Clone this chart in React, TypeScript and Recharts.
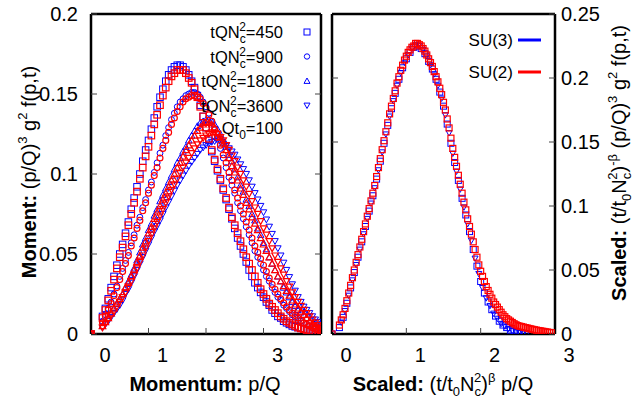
import React from "react";
import { ScatterChart, Scatter, XAxis, YAxis } from "recharts";

// ── Palette / font ──────────────────────────────────────────────────

const FONT = "'Liberation Sans', Arial, Helvetica, sans-serif";
const BLUE = "#0000ff";
const RED = "#ff0000";

// ── Left panel: momentum spectra at four times ──────────────────────

const MOM_X = [
  0, 0.2, 0.25, 0.3, 0.35, 0.4, 0.45, 0.5, 0.55, 0.6, 0.65, 0.7, 0.75, 0.8, 0.85, 0.9, 0.95, 1.0,
  1.05, 1.1, 1.15, 1.2, 1.25, 1.3, 1.35, 1.4, 1.45, 1.5, 1.55, 1.6, 1.65, 1.7, 1.75, 1.8, 1.85, 1.9,
  1.95, 2.0, 2.05, 2.1, 2.15, 2.2, 2.25, 2.3, 2.35, 2.4, 2.45, 2.5, 2.55, 2.6, 2.65, 2.7, 2.75, 2.8,
  2.85, 2.9, 2.95, 3.0, 3.05, 3.1, 3.15, 3.2, 3.25, 3.3, 3.35, 3.4, 3.45, 3.5, 3.55, 3.6, 3.65, 3.7,
  3.75, 3.8, 3.85, 3.9, 3.95, 4.0,
];

const SU3_450 = [
  0,
  0.011, 0.016, 0.022, 0.029, 0.036, 0.043, 0.05, 0.056, 0.063, 0.07,
  0.078, 0.085, 0.092, 0.1, 0.108, 0.115, 0.121, 0.128, 0.135, 0.142,
  0.148, 0.153, 0.158, 0.162, 0.165, 0.167, 0.168, 0.168, 0.167, 0.165,
  0.162, 0.158, 0.154, 0.149, 0.143, 0.136, 0.129, 0.121, 0.114, 0.108,
  0.102, 0.096, 0.09, 0.084, 0.078, 0.072, 0.066, 0.06, 0.055, 0.05,
  0.045, 0.04, 0.036, 0.032, 0.029, 0.026, 0.023, 0.02, 0.018, 0.015,
  0.013, 0.011, 0.01, 0.008, 0.007, 0.006, 0.005, 0.0045, 0.004, 0.0035,
  0.003, 0.0025, 0.002, 0.0015, 0.001, 0.0008, 0.0005,
];
const SU2_450 = [
  0,
  0.01, 0.015, 0.021, 0.027, 0.034, 0.041, 0.048, 0.054, 0.061, 0.068,
  0.075, 0.082, 0.089, 0.097, 0.104, 0.111, 0.117, 0.124, 0.131, 0.137,
  0.143, 0.149, 0.154, 0.158, 0.161, 0.163, 0.165, 0.165, 0.165, 0.163,
  0.16, 0.157, 0.153, 0.148, 0.142, 0.136, 0.129, 0.122, 0.115, 0.109,
  0.103, 0.097, 0.091, 0.085, 0.079, 0.073, 0.068, 0.063, 0.058, 0.053,
  0.048, 0.044, 0.04, 0.036, 0.032, 0.028, 0.025, 0.022, 0.019, 0.017,
  0.015, 0.013, 0.011, 0.0095, 0.008, 0.007, 0.006, 0.005, 0.004, 0.0035,
  0.003, 0.0025, 0.002, 0.0015, 0.001, 0.0008, 0.0006,
];
const SU3_900 = [
  0,
  0.008, 0.012, 0.016, 0.02, 0.025, 0.03, 0.036, 0.041, 0.046, 0.051,
  0.057, 0.062, 0.068, 0.073, 0.079, 0.084, 0.09, 0.095, 0.101, 0.107,
  0.113, 0.118, 0.124, 0.129, 0.134, 0.138, 0.142, 0.145, 0.147, 0.149,
  0.15, 0.151, 0.151, 0.15, 0.148, 0.145, 0.142, 0.138, 0.133, 0.128,
  0.122, 0.116, 0.11, 0.104, 0.098, 0.093, 0.088, 0.082, 0.077, 0.072,
  0.067, 0.062, 0.057, 0.052, 0.048, 0.044, 0.04, 0.036, 0.033, 0.029,
  0.026, 0.023, 0.021, 0.018, 0.016, 0.014, 0.012, 0.0105, 0.009, 0.008,
  0.007, 0.006, 0.005, 0.004, 0.003, 0.0025, 0.002,
];
const SU2_900 = [
  0,
  0.007, 0.011, 0.015, 0.019, 0.024, 0.029, 0.034, 0.039, 0.044, 0.049,
  0.055, 0.06, 0.066, 0.071, 0.077, 0.082, 0.088, 0.093, 0.099, 0.104,
  0.11, 0.116, 0.121, 0.126, 0.131, 0.135, 0.139, 0.142, 0.145, 0.147,
  0.148, 0.149, 0.149, 0.148, 0.147, 0.144, 0.141, 0.137, 0.133, 0.128,
  0.123, 0.118, 0.112, 0.107, 0.101, 0.096, 0.09, 0.085, 0.08, 0.075,
  0.07, 0.065, 0.06, 0.055, 0.051, 0.047, 0.043, 0.039, 0.035, 0.031,
  0.028, 0.025, 0.022, 0.0195, 0.017, 0.015, 0.013, 0.0115, 0.01, 0.0085,
  0.007, 0.006, 0.005, 0.004, 0.003, 0.0025, 0.002,
];
const SU3_1800 = [
  0,
  0.005, 0.0075, 0.01, 0.013, 0.016, 0.019, 0.022, 0.025, 0.029, 0.033,
  0.037, 0.041, 0.046, 0.051, 0.056, 0.06, 0.065, 0.069, 0.074, 0.078,
  0.083, 0.087, 0.091, 0.095, 0.099, 0.103, 0.107, 0.11, 0.114, 0.117,
  0.121, 0.124, 0.127, 0.13, 0.132, 0.133, 0.134, 0.134, 0.133, 0.131,
  0.128, 0.125, 0.121, 0.117, 0.112, 0.108, 0.103, 0.098, 0.093, 0.089,
  0.084, 0.08, 0.075, 0.071, 0.066, 0.062, 0.057, 0.053, 0.048, 0.044,
  0.04, 0.036, 0.033, 0.029, 0.026, 0.023, 0.02, 0.0175, 0.015, 0.0135,
  0.012, 0.01, 0.008, 0.0065, 0.005, 0.004, 0.003,
];
const SU2_1800 = [
  0,
  0.005, 0.0075, 0.01, 0.013, 0.016, 0.019, 0.022, 0.025, 0.029, 0.032,
  0.036, 0.04, 0.045, 0.049, 0.054, 0.058, 0.063, 0.067, 0.072, 0.076,
  0.08, 0.084, 0.088, 0.092, 0.096, 0.1, 0.104, 0.107, 0.111, 0.115,
  0.118, 0.121, 0.124, 0.127, 0.129, 0.131, 0.132, 0.132, 0.131, 0.129,
  0.126, 0.123, 0.119, 0.115, 0.11, 0.105, 0.101, 0.096, 0.091, 0.087,
  0.082, 0.078, 0.073, 0.069, 0.065, 0.06, 0.056, 0.052, 0.048, 0.044,
  0.04, 0.036, 0.033, 0.03, 0.027, 0.024, 0.021, 0.0185, 0.016, 0.014,
  0.012, 0.01, 0.008, 0.0065, 0.005, 0.004, 0.003,
];
const SU3_3600 = [
  0,
  0.004, 0.006, 0.008, 0.0105, 0.013, 0.0155, 0.018, 0.021, 0.025, 0.028,
  0.032, 0.036, 0.04, 0.044, 0.048, 0.052, 0.056, 0.06, 0.064, 0.0675,
  0.071, 0.075, 0.079, 0.0825, 0.086, 0.0895, 0.093, 0.096, 0.099, 0.102,
  0.105, 0.1075, 0.11, 0.1125, 0.115, 0.1165, 0.118, 0.119, 0.12, 0.1205,
  0.121, 0.12, 0.119, 0.1175, 0.116, 0.114, 0.112, 0.109, 0.106, 0.103,
  0.1, 0.096, 0.092, 0.088, 0.084, 0.08, 0.076, 0.0715, 0.067, 0.0625,
  0.058, 0.0535, 0.049, 0.0445, 0.04, 0.0355, 0.031, 0.027, 0.023, 0.02,
  0.017, 0.015, 0.013, 0.011, 0.009, 0.0075, 0.006,
];
const SU2_3600 = [
  0,
  0.004, 0.0065, 0.009, 0.0115, 0.014, 0.017, 0.02, 0.023, 0.026, 0.0295,
  0.033, 0.037, 0.041, 0.045, 0.049, 0.0535, 0.058, 0.062, 0.066, 0.07,
  0.074, 0.078, 0.082, 0.086, 0.09, 0.0935, 0.097, 0.1005, 0.104, 0.107,
  0.11, 0.113, 0.116, 0.1185, 0.121, 0.1225, 0.124, 0.125, 0.126, 0.1255,
  0.125, 0.123, 0.121, 0.118, 0.115, 0.1115, 0.108, 0.104, 0.1, 0.096,
  0.092, 0.0875, 0.083, 0.079, 0.075, 0.0705, 0.066, 0.062, 0.058, 0.0535,
  0.049, 0.045, 0.041, 0.037, 0.033, 0.0295, 0.026, 0.023, 0.02, 0.0175,
  0.015, 0.013, 0.011, 0.009, 0.007, 0.0055, 0.004,
];

const MOM_X_TICKS = [0, 1, 2, 3];
const MOM_Y_TICKS = [0, 0.05, 0.1, 0.15, 0.2];

// ── Right panel: scaled spectra ─────────────────────────────────────

const SC_XA = [
  0, 0.1, 0.15, 0.2, 0.25, 0.3, 0.35, 0.4, 0.45, 0.5, 0.55, 0.6, 0.65, 0.7, 0.75, 0.8, 0.85, 0.9,
  0.95, 1.0, 1.05, 1.1, 1.15, 1.2, 1.25, 1.3, 1.35, 1.4, 1.45, 1.5, 1.55, 1.6, 1.65, 1.7, 1.75, 1.8,
  1.85, 1.9, 1.95, 2.0, 2.05, 2.1, 2.15, 2.2, 2.25, 2.3, 2.35, 2.4, 2.45, 2.5, 2.55, 2.6, 2.65, 2.7,
  2.75, 2.8, 2.85, 2.9, 2.95,
];
const SC_XB = [
  0.125, 0.175, 0.225, 0.275, 0.325, 0.375, 0.425, 0.475, 0.525, 0.575, 0.625, 0.675, 0.725, 0.775,
  0.825, 0.875, 0.925, 0.975, 1.025, 1.075, 1.125, 1.175, 1.225, 1.275, 1.325, 1.375, 1.425, 1.475,
  1.525, 1.575, 1.625, 1.675, 1.725, 1.775, 1.825, 1.875, 1.925, 1.975, 2.025, 2.075, 2.125, 2.175,
  2.225, 2.275, 2.325, 2.375, 2.425, 2.475, 2.525, 2.575, 2.625, 2.675, 2.725, 2.775, 2.825, 2.875,
  2.925,
];

const SC_SU3_A = [
  0,
  0.005, 0.013, 0.024, 0.036, 0.048, 0.06, 0.072, 0.084, 0.096, 0.108,
  0.121, 0.135, 0.149, 0.163, 0.176, 0.188, 0.199, 0.208, 0.215, 0.22,
  0.224, 0.225, 0.223, 0.219, 0.213, 0.207, 0.199, 0.189, 0.178, 0.164,
  0.149, 0.134, 0.12, 0.106, 0.093, 0.08, 0.066, 0.053, 0.041, 0.032,
  0.025, 0.019, 0.014, 0.01, 0.007, 0.005, 0.003, 0.002, 0.001, 0.0006,
  0.0004,
];
const SC_SU3_B = [
  0.009, 0.018, 0.03, 0.042, 0.054, 0.066, 0.078, 0.09, 0.102, 0.114,
  0.128, 0.142, 0.156, 0.17, 0.182, 0.194, 0.204, 0.212, 0.218, 0.223,
  0.226, 0.225, 0.222, 0.217, 0.21, 0.203, 0.194, 0.184, 0.171, 0.157,
  0.141, 0.127, 0.113, 0.099, 0.086, 0.073, 0.059, 0.047, 0.036, 0.028,
  0.022, 0.016, 0.012, 0.008, 0.006, 0.004, 0.0025, 0.0015, 0.0008, 0.0005,
];
const SC_SU2_A = [
  0,
  0.007, 0.015, 0.026, 0.038, 0.05, 0.062, 0.074, 0.086, 0.098, 0.11,
  0.123, 0.137, 0.151, 0.165, 0.178, 0.19, 0.201, 0.21, 0.217, 0.222,
  0.225, 0.227, 0.225, 0.221, 0.215, 0.209, 0.201, 0.192, 0.181, 0.168,
  0.153, 0.138, 0.124, 0.11, 0.097, 0.084, 0.072, 0.06, 0.049, 0.041,
  0.034, 0.028, 0.023, 0.019, 0.015, 0.012, 0.01, 0.008, 0.0065, 0.0058,
  0.005, 0.0043, 0.0036, 0.003, 0.0025, 0.002, 0.0015, 0.001,
];
const SC_SU2_B = [
  0.011, 0.02, 0.032, 0.044, 0.056, 0.068, 0.08, 0.092, 0.104, 0.116,
  0.13, 0.144, 0.158, 0.172, 0.184, 0.196, 0.206, 0.214, 0.22, 0.224,
  0.227, 0.226, 0.223, 0.218, 0.212, 0.205, 0.197, 0.187, 0.175, 0.161,
  0.145, 0.131, 0.117, 0.103, 0.09, 0.078, 0.066, 0.054, 0.045, 0.037,
  0.031, 0.025, 0.021, 0.017, 0.0135, 0.011, 0.009, 0.0072, 0.0061, 0.0054,
  0.0047, 0.004, 0.0033, 0.0027, 0.0022, 0.0017, 0.0012,
];

const SC_X_TICKS = [0, 1, 2, 3];
const SC_Y_TICKS = [0, 0.05, 0.1, 0.15, 0.2, 0.25];

const LEGEND_TIMES = ["450", "900", "1800", "3600"];

// ── Helpers ─────────────────────────────────────────────────────────

type Kind = "square" | "circle" | "up" | "down";

const pts = (xs: number[], ys: number[]) => ys.map((y, i) => ({ x: xs[i], y }));

function glyph(kind: Kind, color: string, cx: number, cy: number, size: number, width: number) {
  const h = size / 2;
  const common = { fill: "none", stroke: color, strokeWidth: width };
  if (kind === "square") return <rect x={cx - h} y={cy - h} width={size} height={size} {...common} />;
  if (kind === "circle") return <circle cx={cx} cy={cy} r={h - 0.3} {...common} />;
  if (kind === "up")
    return <polygon points={`${cx},${cy - h} ${cx - h},${cy + h * 0.8} ${cx + h},${cy + h * 0.8}`} {...common} />;
  return <polygon points={`${cx},${cy + h} ${cx - h},${cy - h * 0.8} ${cx + h},${cy - h * 0.8}`} {...common} />;
}

const marker = (kind: Kind, color: string, size = 7, width = 1) => (props: any) => {
  const { cx, cy } = props;
  if (cx == null || cy == null) return <g />;
  return glyph(kind, color, cx, cy, size, width);
};

const shiftedTick = (props: any) => {
  const { x, y, payload } = props;
  return (
    <text x={x + 14} y={y} dy="0.71em" textAnchor="middle" fill="#000" fontSize={20} fontFamily={FONT}>
      {payload.value}
    </text>
  );
};
const blankTick = () => <g />;

const yTick = { fill: "#000", fontSize: 20, fontFamily: FONT };
const frame = { stroke: "#000", strokeWidth: 2.5 };
const tickLine = { stroke: "#444", strokeWidth: 1 };

const LEFT_SERIES: { ys: number[]; kind: Kind; color: string }[] = [
  { ys: SU3_450, kind: "square", color: BLUE },
  { ys: SU3_900, kind: "circle", color: BLUE },
  { ys: SU3_1800, kind: "up", color: BLUE },
  { ys: SU3_3600, kind: "down", color: BLUE },
  { ys: SU2_450, kind: "square", color: RED },
  { ys: SU2_900, kind: "circle", color: RED },
  { ys: SU2_1800, kind: "up", color: RED },
  { ys: SU2_3600, kind: "down", color: RED },
];

const RIGHT_SERIES: { xs: number[]; ys: number[]; kind: Kind; color: string }[] = [
  { xs: SC_XA, ys: SC_SU3_A, kind: "square", color: BLUE },
  { xs: SC_XB, ys: SC_SU3_B, kind: "down", color: BLUE },
  { xs: SC_XA, ys: SC_SU2_A, kind: "square", color: RED },
  { xs: SC_XB, ys: SC_SU2_B, kind: "square", color: RED },
];

const LEGEND_KINDS: Kind[] = ["square", "circle", "up", "down"];

// ── Panels ──────────────────────────────────────────────────────────

function MomentumPanel() {
  return (
    <ScatterChart width={632} height={401} margin={{ top: 4, right: 301, bottom: 37, left: 41 }}>
      <XAxis
        type="number"
        dataKey="x"
        domain={[0, 4]}
        allowDataOverflow
        ticks={MOM_X_TICKS}
        interval={0}
        height={30}
        tickSize={-6}
        tickMargin={20}
        tick={shiftedTick}
        axisLine={frame}
        tickLine={tickLine}
      />
      <XAxis
        xAxisId="top"
        orientation="top"
        type="number"
        domain={[0, 4]}
        allowDataOverflow
        ticks={[1, 2, 3]}
        interval={0}
        height={10}
        tickSize={-6}
        tick={blankTick}
        axisLine={frame}
        tickLine={tickLine}
      />
      <YAxis
        type="number"
        dataKey="y"
        domain={[0, 0.2]}
        allowDataOverflow
        ticks={MOM_Y_TICKS}
        interval={0}
        width={50}
        tickSize={-6}
        tickMargin={19}
        tick={yTick}
        axisLine={frame}
        tickLine={tickLine}
      />
      <YAxis
        yAxisId="right"
        orientation="right"
        type="number"
        domain={[0, 0.2]}
        allowDataOverflow
        ticks={[0.05, 0.1, 0.15]}
        interval={0}
        width={10}
        tickSize={-6}
        tick={blankTick}
        axisLine={frame}
        tickLine={tickLine}
      />
      {LEFT_SERIES.map((s, i) => (
        <Scatter
          key={i}
          data={pts(MOM_X, s.ys)}
          shape={marker(s.kind, s.color, 6.5, s.color === RED ? 1.2 : 1)}
          isAnimationActive={false}
        />
      ))}
    </ScatterChart>
  );
}

function ScaledPanel() {
  return (
    <ScatterChart width={632} height={401} margin={{ top: 4, right: 27, bottom: 37, left: 322 }}>
      <XAxis
        type="number"
        dataKey="x"
        domain={[0, 3]}
        allowDataOverflow
        ticks={SC_X_TICKS}
        interval={0}
        height={30}
        tickSize={-6}
        tickMargin={20}
        tick={shiftedTick}
        axisLine={frame}
        tickLine={tickLine}
      />
      <XAxis
        xAxisId="top"
        orientation="top"
        type="number"
        domain={[0, 3]}
        allowDataOverflow
        ticks={[1, 2]}
        interval={0}
        height={10}
        tickSize={-6}
        tick={blankTick}
        axisLine={frame}
        tickLine={tickLine}
      />
      <YAxis
        orientation="right"
        type="number"
        dataKey="y"
        domain={[0, 0.25]}
        allowDataOverflow
        ticks={SC_Y_TICKS}
        interval={0}
        width={50}
        tickSize={-6}
        tickMargin={12}
        tick={yTick}
        axisLine={frame}
        tickLine={tickLine}
      />
      <YAxis
        yAxisId="left"
        orientation="left"
        type="number"
        domain={[0, 0.25]}
        allowDataOverflow
        ticks={[0.05, 0.1, 0.15, 0.2]}
        interval={0}
        width={10}
        tickSize={-6}
        tick={blankTick}
        axisLine={frame}
        tickLine={tickLine}
      />
      {RIGHT_SERIES.map((s, i) => (
        <Scatter
          key={i}
          data={pts(s.xs, s.ys)}
          shape={marker(s.kind, s.color, 6, s.color === RED ? 1.2 : 1)}
          isAnimationActive={false}
        />
      ))}
    </ScatterChart>
  );
}

// ── Titles and keys ─────────────────────────────────────────────────

function Annotations() {
  const sub = 13;
  return (
    <svg width={632} height={401} style={{ position: "absolute", left: 0, top: 0, pointerEvents: "none" }}>
      <g fontFamily={FONT} fill="#000">
        {/* left legend */}
        {LEGEND_TIMES.map((t, i) => (
          <g key={t}>
            <text x={283} y={38 + i * 24.5} textAnchor="end" fontSize={16.5}>
              tQN
              <tspan fontSize={12} dy={5}>c</tspan>
              <tspan fontSize={12} dx={-6.5} dy={-12}>2</tspan>
              <tspan dy={7}>{"=" + t}</tspan>
            </text>
            {glyph(LEGEND_KINDS[i], BLUE, 307, 32 + i * 24.5, 6, 1)}
          </g>
        ))}
        <text x={283} y={134} textAnchor="end" fontSize={16.5}>
          Qt
          <tspan fontSize={12} dy={5}>0</tspan>
          <tspan dy={-5}>=100</tspan>
        </text>

        {/* right legend */}
        <text x={513} y={46} textAnchor="end" fontSize={17}>SU(3)</text>
        <line x1={518} x2={541} y1={40} y2={40} stroke={BLUE} strokeWidth={3} />
        <text x={513} y={78} textAnchor="end" fontSize={17}>SU(2)</text>
        <line x1={518} x2={541} y1={72} y2={72} stroke={RED} strokeWidth={3} />

        {/* x titles */}
        <text x={205} y={391} textAnchor="middle" fontSize={20}>
          <tspan fontWeight="bold">Momentum:</tspan>
          {" p/Q"}
        </text>
        <text x={443} y={391} textAnchor="middle" fontSize={20}>
          <tspan fontWeight="bold">Scaled:</tspan>
          {" (t/t"}
          <tspan fontSize={sub} dy={5}>0</tspan>
          <tspan dy={-5}>N</tspan>
          <tspan fontSize={sub} dy={5}>c</tspan>
          <tspan fontSize={sub} dx={-7} dy={-14}>2</tspan>
          <tspan dy={9}>)</tspan>
          <tspan fontSize={sub} dy={-9}>β</tspan>
          <tspan dy={9}>{" p/Q"}</tspan>
        </text>

        {/* y titles */}
        <text transform="translate(36,172) rotate(-90)" textAnchor="middle" fontSize={20}>
          <tspan fontWeight="bold">Moment:</tspan>
          {" (p/Q)"}
          <tspan fontSize={sub} dy={-9}>3</tspan>
          <tspan dy={9}>{" g"}</tspan>
          <tspan fontSize={sub} dy={-9}>2</tspan>
          <tspan dy={9}>{" f(p,t)"}</tspan>
        </text>
        <text transform="translate(626,163) rotate(-90)" textAnchor="middle" fontSize={20}>
          <tspan fontWeight="bold">Scaled:</tspan>
          {" (t/t"}
          <tspan fontSize={sub} dy={5}>0</tspan>
          <tspan dy={-5}>N</tspan>
          <tspan fontSize={sub} dy={5}>c</tspan>
          <tspan fontSize={sub} dx={-7} dy={-14}>2</tspan>
          <tspan dy={9}>)</tspan>
          <tspan fontSize={sub} dy={-9}>-β</tspan>
          <tspan dy={9}>{" (p/Q)"}</tspan>
          <tspan fontSize={sub} dy={-9}>3</tspan>
          <tspan dy={9}>{" g"}</tspan>
          <tspan fontSize={sub} dy={-9}>2</tspan>
          <tspan dy={9}>{" f(p,t)"}</tspan>
        </text>
      </g>
    </svg>
  );
}

export default function App() {
  return (
    <div style={{ position: "absolute", left: 0, top: 0, width: 632, height: 401, background: "#fff", overflow: "hidden" }}>
      <div style={{ position: "absolute", left: 0, top: 0 }}>
        <MomentumPanel />
      </div>
      <div style={{ position: "absolute", left: 0, top: 0 }}>
        <ScaledPanel />
      </div>
      <Annotations />
    </div>
  );
}
